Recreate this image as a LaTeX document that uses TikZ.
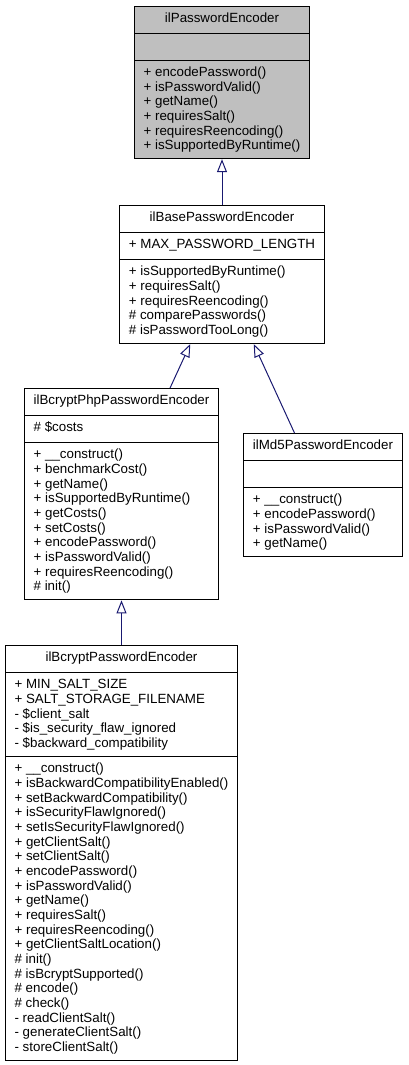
\documentclass[tikz,border=0pt]{standalone}
\usepackage{fontspec}
\setmainfont{Liberation Sans}
\usetikzlibrary{shapes.multipart,arrows.meta}
\definecolor{edgeblue}{HTML}{191970}
\definecolor{basegray}{HTML}{BFBFBF}
\tikzset{cls/.style = {rectangle split, rectangle split parts = 3, draw, line width = 0.75pt,
                       rectangle split part align = {center,left,left}, align = left,
                       inner xsep = 7pt, inner ysep = 4.25pt,
                       font = \fontsize{10}{11}\selectfont, anchor = north}}
\tikzset{inh/.style = {draw = edgeblue, line width = 0.75pt,
                       -{Triangle[open, length = 9.75pt, width = 7.5pt]}}}

\begin{document}
\begin{tikzpicture}[x = 0.75pt, y = -0.75pt]
    \useasboundingbox (0,0) rectangle (408,1065);
    % interface
    \node [cls, fill = basegray] (pe) at (222,5.5) {\strut ilPasswordEncoder
        \nodepart{two}\strut
        \nodepart{three}\strut + encodePassword()\\
            + isPasswordValid()\\
            + getName()\\
            + requiresSalt()\\
            + requiresReencoding()\\
            + isSupportedByRuntime()};
    \node [cls] (base) at (222,205) {\strut ilBasePasswordEncoder
        \nodepart{two}\strut + MAX\_PASSWORD\_LENGTH
        \nodepart{three}\strut + isSupportedByRuntime()\\
            + requiresSalt()\\
            + requiresReencoding()\\
            \# comparePasswords()\\
            \# isPasswordTooLong()};
    \node [cls] (php) at (121.5,388) {\strut ilBcryptPhpPasswordEncoder
        \nodepart{two}\strut \# \$costs
        \nodepart{three}\strut + \_\_construct()\\
            + benchmarkCost()\\
            + getName()\\
            + isSupportedByRuntime()\\
            + getCosts()\\
            + setCosts()\\
            + encodePassword()\\
            + isPasswordValid()\\
            + requiresReencoding()\\
            \# init()};
    \node [cls] (md5) at (323,433) {\strut ilMd5PasswordEncoder
        \nodepart{two}\strut
        \nodepart{three}\strut + \_\_construct()\\
            + encodePassword()\\
            + isPasswordValid()\\
            + getName()};
    \node [cls] (bcrypt) at (121.5,645) {\strut ilBcryptPasswordEncoder
        \nodepart{two}\strut + MIN\_SALT\_SIZE\\
            + SALT\_STORAGE\_FILENAME\\
            - \$client\_salt\\
            - \$is\_security\_flaw\_ignored\\
            - \$backward\_compatibility
        \nodepart{three}\strut + \_\_construct()\\
            + isBackwardCompatibilityEnabled()\\
            + setBackwardCompatibility()\\
            + isSecurityFlawIgnored()\\
            + setIsSecurityFlawIgnored()\\
            + getClientSalt()\\
            + setClientSalt()\\
            + encodePassword()\\
            + isPasswordValid()\\
            + getName()\\
            + requiresSalt()\\
            + requiresReencoding()\\
            + getClientSaltLocation()\\
            \# init()\\
            \# isBcryptSupported()\\
            \# encode()\\
            \# check()\\
            - readClientSalt()\\
            - generateClientSalt()\\
            - storeClientSalt()};
    % inheritance
    \draw [inh] (base) -- (pe);
    \draw [inh] (php) -- (base);
    \draw [inh] (md5) -- (base);
    \draw [inh] (bcrypt) -- (php);
\end{tikzpicture}
\end{document}
